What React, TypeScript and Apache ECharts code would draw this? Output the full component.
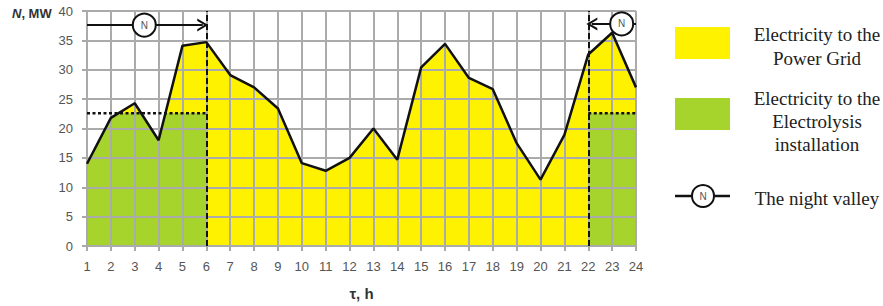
import React, { useEffect, useRef } from "react";
import * as echarts from "echarts";

const hours = [1, 2, 3, 4, 5, 6, 7, 8, 9, 10, 11, 12, 13, 14, 15, 16, 17, 18, 19, 20, 21, 22, 23, 24];
const power = [14.0, 21.8, 24.3, 18.0, 34.1, 34.7, 29.1, 27.0, 23.4, 14.1, 12.8, 15.0, 20.0, 14.7, 30.4, 34.4, 28.6, 26.7, 17.5, 11.3, 18.9, 32.6, 36.3, 27.0];
const electrolysisLevel = 22.6;
const valleyLeft = [1, 6];
const valleyRight = [22, 24];
const arrowLevel = 37.6;
const yMin = 0;
const yMax = 40;
const yStep = 5;

const YELLOW = "#fff200";
const GREEN = "#a6d42c";
const INK = "#111";

function clipToLevel(from: number, to: number) {
  const pts: number[][] = [];
  const i0 = hours.indexOf(from);
  const i1 = hours.indexOf(to);
  for (let i = i0; i <= i1; i++) {
    const h = hours[i];
    const v = power[i];
    pts.push([h, Math.min(v, electrolysisLevel)]);
    if (i < i1) {
      const v2 = power[i + 1];
      if ((v - electrolysisLevel) * (v2 - electrolysisLevel) < 0) {
        const t = (electrolysisLevel - v) / (v2 - v);
        pts.push([h + t * (hours[i + 1] - h), electrolysisLevel]);
      }
    }
  }
  return pts;
}

const chevron = "path://M0,10 L5,0 L10,10 L8.2,10 L5,3.6 L1.8,10 Z";

export default function App() {
  const ref = useRef<HTMLDivElement>(null);
  useEffect(() => {
    if (!ref.current) return;
    const chart = echarts.init(ref.current, null, { renderer: "svg" });
    const lineData = hours.map((h, i) => [h, power[i]]);
    const labelFont = { fontFamily: "Liberation Sans, Arial, sans-serif", fontSize: 13, color: "#555" };
    const baseX = {
      type: "value",
      min: hours[0],
      max: hours[hours.length - 1],
      interval: 1,
      axisLine: { show: true, lineStyle: { color: "#a8a8a8", width: 2 } },
      axisTick: { show: true, length: 5, lineStyle: { color: "#a8a8a8", width: 2 } },
      axisLabel: { ...labelFont, margin: 14 },
      splitLine: { show: false },
      name: "τ, h",
      nameLocation: "middle",
      nameGap: 40,
      nameTextStyle: { fontFamily: "Liberation Sans, Arial, sans-serif", fontSize: 15, fontWeight: "bold", color: "#333" },
    };
    const overlayX = {
      type: "value",
      min: hours[0],
      max: hours[hours.length - 1],
      interval: 1,
      position: "top",
      z: 3,
      axisLine: { show: false },
      axisTick: { show: false },
      axisLabel: { show: false },
      splitLine: { show: true, lineStyle: { color: "#ababab", width: 2 } },
    };
    const baseY = {
      type: "value",
      min: yMin,
      max: yMax,
      interval: yStep,
      axisLine: { show: false },
      axisTick: { show: true, length: 5, lineStyle: { color: "#a8a8a8", width: 2 } },
      axisLabel: { ...labelFont, margin: 14 },
      splitLine: { show: false },
    };
    const overlayY = {
      type: "value",
      min: yMin,
      max: yMax,
      interval: yStep,
      position: "right",
      z: 3,
      axisLine: { show: false },
      axisTick: { show: false },
      axisLabel: { show: false },
      splitLine: { show: true, lineStyle: { color: "#ababab", width: 2 } },
    };
    const areaSeries = (data: number[][], color: string, z: number) => ({
      type: "line",
      data,
      symbol: "none",
      silent: true,
      lineStyle: { opacity: 0 },
      areaStyle: { color, opacity: 1 },
      z,
    });
    const dottedSeries = (range: number[]) => ({
      type: "line",
      data: [
        [range[0], electrolysisLevel],
        [range[1], electrolysisLevel],
      ],
      symbol: "none",
      lineStyle: { color: INK, width: 2.5, type: [3, 2.5] },
      z: 5,
    });
    const circleLabel = { show: true, formatter: "N", color: "#555", fontSize: 10, fontFamily: "Liberation Sans, Arial, sans-serif" };

    const option = {
      animation: false,
      grid: { left: 87, right: 247, top: 11, bottom: 57 },
      xAxis: [baseX, overlayX],
      yAxis: [baseY, overlayY],
      series: [
        areaSeries(lineData, YELLOW, 1),
        areaSeries(clipToLevel(valleyLeft[0], valleyLeft[1]), GREEN, 2),
        areaSeries(clipToLevel(valleyRight[0], valleyRight[1]), GREEN, 2),
        dottedSeries(valleyLeft),
        dottedSeries(valleyRight),
        {
          type: "line",
          data: lineData,
          symbol: "none",
          lineStyle: { color: INK, width: 2.5 },
          z: 6,
          markLine: {
            silent: true,
            symbol: ["none", "none"],
            label: { show: false },
            animation: false,
            data: [
              { xAxis: valleyLeft[1], lineStyle: { color: INK, width: 2, type: [6, 3] } },
              { xAxis: valleyRight[0], lineStyle: { color: INK, width: 2, type: [6, 3] } },
              [
                { coord: [valleyLeft[0], arrowLevel], symbol: "none", lineStyle: { color: INK, width: 2, type: "solid" } },
                { coord: [valleyLeft[1] - 0.15, arrowLevel], symbol: chevron, symbolSize: [13, 11] },
              ],
              [
                { coord: [valleyRight[1], arrowLevel + 0.2], symbol: "none", lineStyle: { color: INK, width: 2, type: "solid" } },
                { coord: [valleyRight[0] + 0.15, arrowLevel + 0.2], symbol: chevron, symbolSize: [13, 11] },
              ],
            ],
          },
          markPoint: {
            silent: true,
            symbol: "circle",
            symbolSize: 23,
            itemStyle: { color: "#fff", borderColor: INK, borderWidth: 2 },
            label: circleLabel,
            data: [{ coord: [3.4, arrowLevel] }, { coord: [23.4, arrowLevel + 0.2] }],
          },
        },
      ],
      graphic: [
        {
          type: "text",
          left: 12,
          top: 7,
          style: {
            text: "{n|N}{b|, MW}",
            rich: {
              n: { fontFamily: "Liberation Sans, Arial, sans-serif", fontSize: 13, fontWeight: "bold", fontStyle: "italic", fill: "#333" },
              b: { fontFamily: "Liberation Sans, Arial, sans-serif", fontSize: 13, fontWeight: "bold", fill: "#333" },
            },
          },
        },
        { type: "rect", shape: { x: 675, y: 27, width: 55, height: 32 }, style: { fill: YELLOW } },
        { type: "rect", shape: { x: 675, y: 98, width: 55, height: 32 }, style: { fill: GREEN } },
        { type: "line", shape: { x1: 675, y1: 196, x2: 730, y2: 196 }, style: { stroke: INK, lineWidth: 2.5 } },
        { type: "circle", shape: { cx: 703, cy: 196, r: 11 }, style: { fill: "#fff", stroke: INK, lineWidth: 2 } },
        { type: "text", x: 703, y: 196, style: { text: "N", fill: "#555", fontSize: 10, fontFamily: "Liberation Sans, Arial, sans-serif", align: "center", verticalAlign: "middle" } },
        ...[
          ["Electricity to the", 34],
          ["Power Grid", 58],
          ["Electricity to the", 98],
          ["Electrolysis", 121],
          ["installation", 144],
          ["The night valley", 198],
        ].map(([t, y]) => ({
          type: "text",
          x: 817,
          y: y as number,
          style: {
            text: t as string,
            fill: "#222",
            fontSize: 19,
            fontFamily: "Liberation Serif, Times New Roman, serif",
            align: "center",
            verticalAlign: "middle",
          },
        })),
      ],
    };
    chart.setOption(option as any);
    return () => chart.dispose();
  }, []);
  return <div ref={ref} style={{ width: 883, height: 306, position: "absolute", left: 0, top: 0 }} />;
}
